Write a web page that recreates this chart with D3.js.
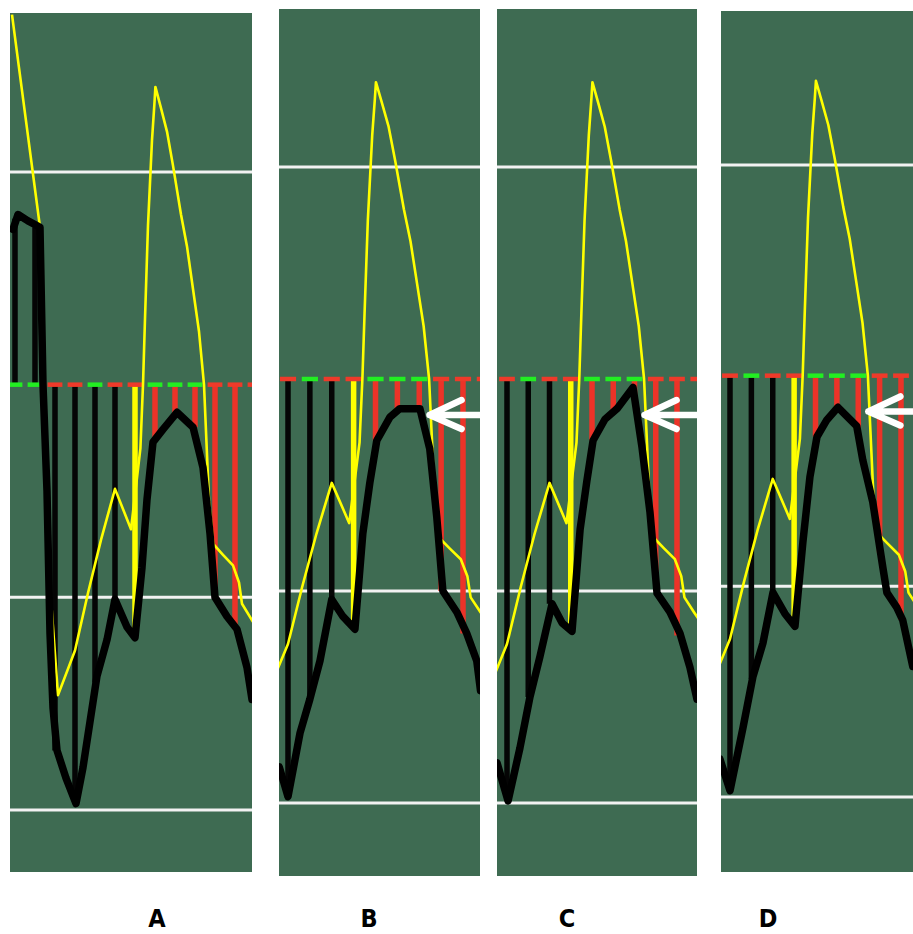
<!DOCTYPE html>
<html><head><meta charset="utf-8">
<script src="https://cdn.jsdelivr.net/npm/d3@7"></script>
<style>html,body{margin:0;padding:0;background:#fff;} svg{display:block}</style>
</head><body>
<svg id="chart" width="913" height="934"></svg>
<script>
// ---------- data ----------
const panelNames = ["A", "B", "C", "D"];
const whiteLevels = [1, -1, -2];
const barIndex = [0, 1, 2, 3, 4, 5, 6, 7, 8, 9, 10, 11, 12];
const stemColorKeys = ["k","k","k","k","k","k","y","r","r","r","r","r","r"];
const zeroColorKeys = ["g","g","r","r","g","r","r","g","g","g","r","r","r"];

// thin yellow line (shared by all four snapshots): [bar index, value]
const yellowLine = [
  [-0.15, 1.74], [1.25, 0.74], [1.65, -0.82], [2.15, -1.46], [3.0, -1.25], [3.65, -0.98],
  [4.3, -0.73], [5.0, -0.49], [5.8, -0.68], [6.27, -0.30], [6.4, 0.0], [6.5, 0.31],
  [6.65, 0.75], [6.85, 1.15], [6.97, 1.32], [7.02, 1.40], [7.3, 1.30], [7.6, 1.19],
  [7.9, 1.03], [8.3, 0.80], [8.6, 0.65], [8.9, 0.45], [9.2, 0.25], [9.45, 0.0],
  [9.7, -0.55], [9.92, -0.75], [10.4, -0.80], [10.9, -0.85], [11.2, -0.93],
  [11.35, -1.03], [11.8, -1.10], [12.0, -1.13]
];

// thick black line per snapshot
const blackA = [
  [-0.1, 0.73], [0.15, 0.80], [0.65, 0.77], [1.25, 0.74], [1.4, 0.0], [1.6, -0.50],
  [1.75, -1.17], [1.9, -1.52], [2.1, -1.72], [2.55, -1.85], [3.05, -1.97], [3.4, -1.80],
  [4.1, -1.37], [4.6, -1.20], [5.0, -1.01], [5.6, -1.14], [6.0, -1.19], [6.35, -0.86],
  [6.6, -0.54], [6.9, -0.27], [7.4, -0.21], [8.1, -0.13], [8.9, -0.20], [9.4, -0.39],
  [9.75, -0.70], [10.0, -1.0], [10.6, -1.09], [11.1, -1.15], [11.6, -1.33], [11.85, -1.48]
];
const blackB = [
  [2.6, -1.83], [3.0, -1.97], [3.55, -1.67], [4.0, -1.51], [4.46, -1.33], [5.0, -1.04],
  [5.51, -1.12], [6.06, -1.18], [6.42, -0.73], [6.74, -0.49], [7.06, -0.29], [7.66, -0.18],
  [8.11, -0.14], [9.03, -0.14], [9.48, -0.33], [9.8, -0.65], [10.08, -1.0], [10.72, -1.10],
  [11.17, -1.20], [11.63, -1.33], [11.8, -1.47]
];
const blackC = [
  [2.53, -1.81], [3.05, -1.99], [3.61, -1.74], [4.08, -1.50], [4.55, -1.31], [5.12, -1.06],
  [5.59, -1.15], [6.06, -1.19], [6.44, -0.71], [6.76, -0.48], [7.05, -0.29], [7.61, -0.19],
  [8.18, -0.14], [8.93, -0.04], [9.35, -0.32], [9.73, -0.63], [10.06, -1.01], [10.67, -1.10],
  [11.14, -1.20], [11.61, -1.36], [11.94, -1.51]
];
const blackD = [
  [2.53, -1.82], [3.0, -1.97], [3.61, -1.67], [4.07, -1.43], [4.54, -1.27], [5.01, -1.03],
  [5.57, -1.13], [6.04, -1.19], [6.41, -0.79], [6.74, -0.48], [7.07, -0.29], [7.53, -0.21],
  [8.05, -0.15], [8.93, -0.24], [9.21, -0.40], [9.68, -0.60], [10.15, -0.91], [10.34, -1.03],
  [10.8, -1.10], [11.08, -1.16], [11.55, -1.38]
];

// histogram stems per snapshot: [bar index, value]
const stemsA = [[0, 0.78], [1, 0.74], [2, -1.72], [3, -1.97], [4, -1.40], [5, -1.01], [6, -1.19],
  [7, -0.25], [8, -0.14], [9, -0.20], [10, -1.0], [11, -1.15]];
const stemsB = [[3, -1.97], [4, -1.51], [5, -1.04], [6, -1.18], [7, -0.29], [8, -0.15], [9, -0.14],
  [10, -1.0], [11, -1.2]];
const stemsC = [[3, -1.98], [4, -1.50], [5, -1.06], [6, -1.19], [7, -0.29], [8, -0.15], [9, -0.08],
  [10, -1.0], [11, -1.21]];
const stemsD = [[3, -1.97], [4, -1.44], [5, -1.03], [6, -1.19], [7, -0.29], [8, -0.15], [9, -0.26],
  [10, -0.84], [11, -1.16]];

// arrow annotation tip [bar index, value] (null = no arrow)
const arrowTips = [null, [9.38, -0.17], [9.38, -0.17], [9.38, -0.17]];

// ---------- layout & style ----------
const layout = [
  {x0: 10,  x1: 252, y0: 13, y1: 872, iRef: [0, 11], xRef: [15, 235],  yRef: [172, 810], lx: 157},
  {x0: 279, x1: 480, y0: 9,  y1: 876, iRef: [3, 11], xRef: [288, 463], yRef: [167, 803], lx: 369},
  {x0: 497, x1: 697, y0: 9,  y1: 876, iRef: [3, 11], xRef: [507, 677], yRef: [167, 803], lx: 567},
  {x0: 721, x1: 913, y0: 11, y1: 872, iRef: [3, 11], xRef: [730, 901], yRef: [165, 797], lx: 768}
];
const blacks = [blackA, blackB, blackC, blackD];
const stems = [stemsA, stemsB, stemsC, stemsD];
const stemColor = {k: "#050505", y: "#ffff00", r: "#ec3328"};
const dashColor = {g: "#22ee22", r: "#ee3a2a"};
const BG = "#3e6b52";

const svg = d3.select("#chart");
const defs = svg.append("defs");

panelNames.forEach((name, p) => {
  const L = layout[p];
  const x = d3.scaleLinear().domain(L.iRef).range(L.xRef);
  const y = d3.scaleLinear().domain([1, -2]).range(L.yRef);
  const step = x(1) - x(0);

  defs.append("clipPath").attr("id", "clip" + name)
    .append("rect").attr("x", L.x0).attr("y", L.y0)
    .attr("width", L.x1 - L.x0).attr("height", L.y1 - L.y0);

  const g = svg.append("g").attr("clip-path", `url(#clip${name})`);

  g.append("rect").attr("x", L.x0).attr("y", L.y0)
    .attr("width", L.x1 - L.x0).attr("height", L.y1 - L.y0).attr("fill", BG);

  // white reference levels
  g.selectAll("line.white").data(whiteLevels).join("line")
    .attr("x1", L.x0).attr("x2", L.x1)
    .attr("y1", d => y(d)).attr("y2", d => y(d))
    .attr("stroke", "#f2f2f2").attr("stroke-width", 3);

  // histogram stems
  g.selectAll("line.stem").data(stems[p]).join("line")
    .attr("x1", d => x(d[0])).attr("x2", d => x(d[0]))
    .attr("y1", y(0)).attr("y2", d => y(d[1]))
    .attr("stroke", d => stemColor[stemColorKeys[d[0]]])
    .attr("stroke-width", 5.5);

  // zero line dashes
  g.selectAll("line.zero").data(barIndex).join("line")
    .attr("x1", d => x(d) - step * 0.37).attr("x2", d => x(d) + step * 0.37)
    .attr("y1", y(0)).attr("y2", y(0))
    .attr("stroke", d => dashColor[zeroColorKeys[d]])
    .attr("stroke-width", 4.5);

  // yellow line
  const line = d3.line().x(d => x(d[0])).y(d => y(d[1]));
  g.append("path").attr("d", line(yellowLine))
    .attr("fill", "none").attr("stroke", "#ffff00").attr("stroke-width", 2.6)
    .attr("stroke-linejoin", "round");

  // black line
  g.append("path").attr("d", line(blacks[p]))
    .attr("fill", "none").attr("stroke", "#000").attr("stroke-width", 7.5)
    .attr("stroke-linejoin", "round").attr("stroke-linecap", "round");

  // arrow
  const tip = arrowTips[p];
  if (tip) {
    const tx = x(tip[0]) + 2, ty = y(tip[1]);
    g.append("path")
      .attr("d", `M${L.x1 + 5},${ty} L${tx},${ty} M${tx + 32},${ty - 15} L${tx},${ty} L${tx + 32},${ty + 14}`)
      .attr("fill", "none").attr("stroke", "#ffffff").attr("stroke-width", 6.5)
      .attr("stroke-linecap", "round").attr("stroke-linejoin", "round");
  }

  // panel label
  svg.append("text").attr("x", L.lx).attr("y", 927)
    .attr("text-anchor", "middle")
    .attr("font-family", "'Liberation Sans Narrow', 'DejaVu Sans Condensed', sans-serif")
    .attr("font-weight", "bold").attr("font-size", 25)
    .attr("fill", "#000").text(name);
});
</script>
</body></html>
